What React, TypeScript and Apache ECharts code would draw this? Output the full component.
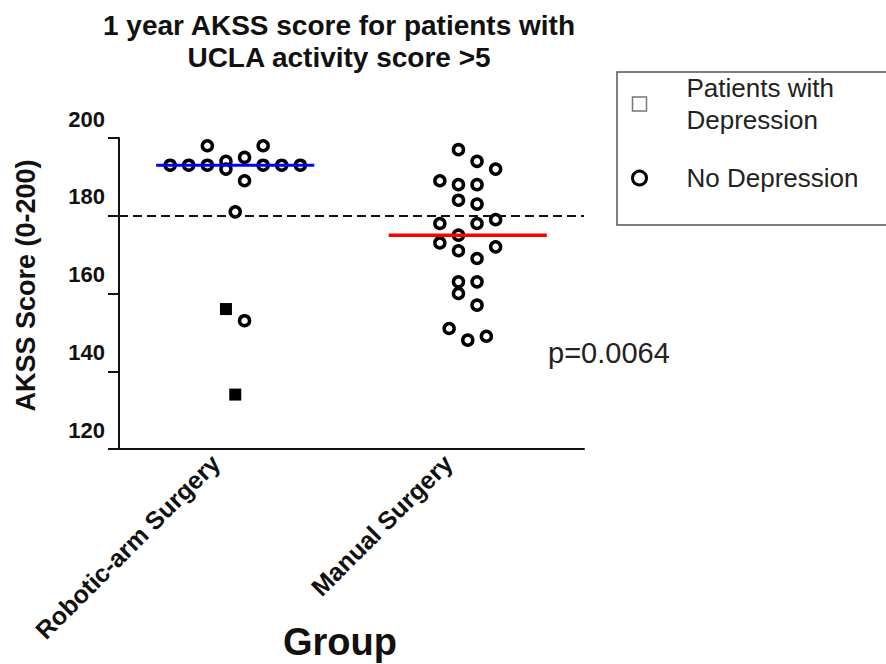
import React, { useEffect, useRef } from "react";
import * as echarts from "echarts";

const categories = ["Robotic-arm Surgery", "Manual Surgery"];
const yTicks = { min: 120, max: 200, interval: 20 };
const thresholdValue = 180;
const pValueText = "p=0.0064";

// Robotic-arm surgery (category 1)
const roboticNoDepValues = [193, 193, 193, 194, 192, 195, 189, 193, 193, 193, 198, 198, 181, 153];
const roboticNoDepOffsets = [-0.28, -0.2, -0.12, -0.04, -0.04, 0.04, 0.04, 0.12, 0.2, 0.28, -0.12, 0.12, 0, 0.04];
const roboticDepValues = [156, 134];
const roboticDepOffsets = [-0.04, 0];

// Manual surgery (category 2)
const manualNoDepValues = [197, 194, 192, 189, 188, 188, 184, 183, 178, 178, 179, 175, 173, 171, 172, 169, 163, 163, 160, 157, 151, 148, 149];
const manualNoDepOffsets = [-0.04, 0.04, 0.12, -0.12, -0.04, 0.04, -0.04, 0.04, -0.12, 0.04, 0.12, -0.04, -0.12, -0.04, 0.12, 0.04, -0.04, 0.04, -0.04, 0.04, -0.08, 0, 0.08];

const median = (arr: number[]) => {
  const s = [...arr].sort((a, b) => a - b);
  const m = Math.floor(s.length / 2);
  return s.length % 2 ? s[m] : (s[m - 1] + s[m]) / 2;
};

const FONT = "'Liberation Sans', Arial, sans-serif";

export default function App() {
  const ref = useRef<HTMLDivElement>(null);
  useEffect(() => {
    if (!ref.current) return;
    const chart = echarts.init(ref.current, null, { renderer: "svg" });
    const pts = (vals: number[], offs: number[], c: number) => vals.map((v, i) => [c + offs[i], v]);
    const noDep = [...pts(roboticNoDepValues, roboticNoDepOffsets, 1), ...pts(manualNoDepValues, manualNoDepOffsets, 2)];
    const dep = [...pts(roboticDepValues, roboticDepOffsets, 1)];
    const medRobotic = median([...roboticNoDepValues, ...roboticDepValues]);
    const medManual = median(manualNoDepValues);
    const hw = 0.34;
    chart.setOption({
      animation: false,
      backgroundColor: "#fff",
      textStyle: { fontFamily: FONT },
      title: {
        text: "1 year AKSS score for patients with\nUCLA activity score >5",
        left: 339,
        top: 9,
        padding: 0,
        textAlign: "center",
        textStyle: { fontSize: 28, fontWeight: "bold", color: "#111", lineHeight: 32, fontFamily: FONT },
      },
      legend: {
        orient: "vertical",
        left: 617,
        top: 72,
        padding: [0, 60, 31, 14],
        itemGap: 26,
        itemWidth: 14,
        itemHeight: 14,
        borderColor: "#555",
        borderWidth: 1.5,
        textStyle: { fontSize: 26, color: "#222", lineHeight: 32, padding: [0, 0, 0, 35], fontFamily: FONT },
        formatter: (name: string) => (name === "Patients with Depression" ? "Patients with\nDepression" : name),
        data: [
          { name: "Patients with Depression", icon: "rect", itemStyle: { color: "#fff", borderColor: "#777", borderWidth: 1.5 } },
          { name: "No Depression", icon: "circle", itemStyle: { color: "#fff", borderColor: "#000", borderWidth: 3 } },
        ],
      },
      grid: { left: 119, right: 302, top: 138, bottom: 215, containLabel: false, outerBoundsMode: "none" },
      xAxis: [
        {
          type: "category",
          data: categories,
          boundaryGap: true,
          axisLine: { lineStyle: { color: "#111", width: 2 } },
          axisTick: { alignWithLabel: true, length: 10, lineStyle: { color: "#111", width: 2 } },
          axisLabel: {
            rotate: 45,
            fontSize: 25,
            fontWeight: "bold",
            color: "#111",
            margin: 14,
            verticalAlign: "bottom",
            lineHeight: 34,
            padding: [0, 11, 0, 0],
            fontFamily: FONT,
          },
          splitLine: { show: false },
        },
        { type: "value", min: 0.5, max: 2.5, show: false, splitLine: { show: false } },
      ],
      yAxis: {
        type: "value",
        min: yTicks.min,
        max: yTicks.max,
        interval: yTicks.interval,
        name: "AKSS Score (0-200)",
        nameLocation: "middle",
        nameRotate: 90,
        nameGap: 80,
        nameTextStyle: { fontSize: 27, fontWeight: "bold", color: "#111", fontFamily: FONT, padding: [0, 0, 0, 16] },
        axisLine: { show: true, lineStyle: { color: "#111", width: 2 } },
        axisTick: { show: true, length: 11, lineStyle: { color: "#111", width: 2 } },
        axisLabel: { fontSize: 22, fontWeight: "bold", color: "#111", margin: 14, verticalAlign: "bottom", lineHeight: 38, fontFamily: FONT },
        splitLine: { show: false },
      },
      series: [
        {
          name: "threshold",
          type: "line",
          xAxisIndex: 1,
          data: [],
          z: 1,
          markLine: {
            silent: true,
            symbol: "none",
            label: { show: false },
            lineStyle: { color: "#111", width: 2, type: [9, 5] },
            data: [{ yAxis: thresholdValue }],
          },
        },
        {
          name: "No Depression",
          type: "scatter",
          xAxisIndex: 1,
          symbol: "circle",
          symbolSize: 10,
          itemStyle: { color: "#fff", borderColor: "#000", borderWidth: 3.5, opacity: 1 },
          data: noDep,
          z: 3,
        },
        {
          name: "Patients with Depression",
          type: "scatter",
          xAxisIndex: 1,
          symbol: "rect",
          symbolSize: 12,
          itemStyle: { color: "#000", opacity: 1 },
          data: dep,
          z: 3,
        },
        {
          name: "Robotic median",
          type: "line",
          xAxisIndex: 1,
          symbol: "none",
          lineStyle: { color: "#0000ff", width: 3 },
          data: [[1 - hw, medRobotic], [1 + hw, medRobotic]],
          z: 5,
        },
        {
          name: "Manual median",
          type: "line",
          xAxisIndex: 1,
          symbol: "none",
          lineStyle: { color: "#ff0000", width: 3.5 },
          data: [[2 - hw, medManual], [2 + hw, medManual]],
          z: 5,
        },
      ],
      graphic: [
        {
          type: "text",
          x: 548,
          y: 353,
          style: { text: pValueText, fontSize: 29, fill: "#222", fontFamily: FONT, align: "left", verticalAlign: "middle" },
        },
        {
          type: "text",
          x: 340,
          y: 642,
          style: { text: "Group", fontSize: 38, fontWeight: "bold", fill: "#111", fontFamily: FONT, align: "center", verticalAlign: "middle" },
        },
      ],
    });
    return () => chart.dispose();
  }, []);
  return <div ref={ref} style={{ position: "fixed", left: 0, top: 0, width: 886, height: 664 }} />;
}
